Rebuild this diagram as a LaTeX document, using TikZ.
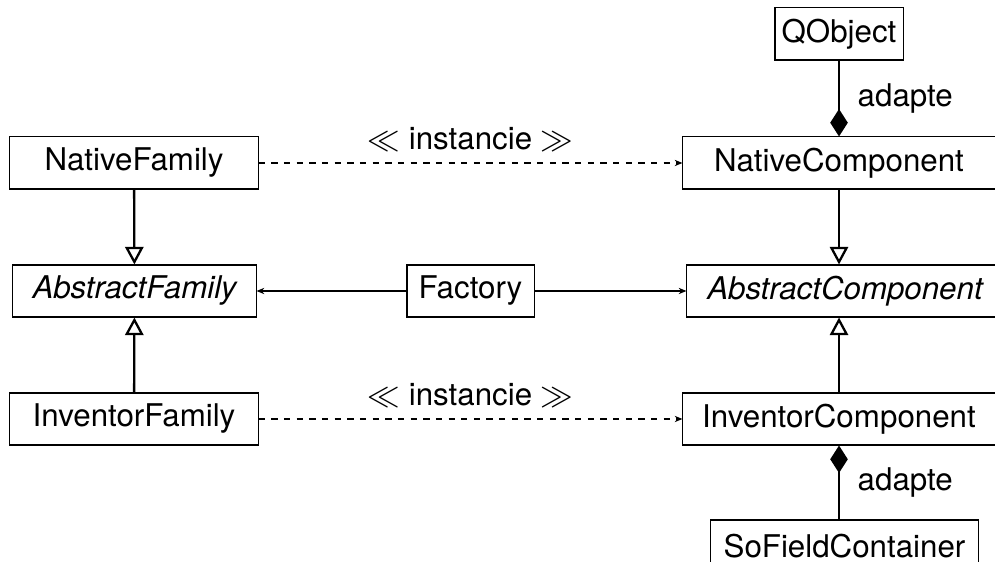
\documentclass[tikz,border=0pt]{standalone}
\usepackage{fontspec}
\setmainfont{TeX Gyre Heros}
\usetikzlibrary{arrows.meta,positioning}

\begin{document}
\begin{tikzpicture}[
    x=0.01cm, y=-0.01cm,
    every node/.style={font=\fontsize{8.9}{10.5}\selectfont},
    cls/.style={
        rectangle, draw=black, line width=0.3pt,
        minimum height=0.52cm, inner sep=0pt
    },
    abscls/.style={
        cls, font=\fontsize{8.9}{10.5}\selectfont\itshape
    },
    inherit/.style={-{Triangle[open, length=5pt, width=5.2pt]}, line width=0.65pt},
    compose/.style={-{Diamond[length=7.8pt, width=5pt]}, line width=0.65pt},
    uses/.style={-{Stealth[length=2.2pt, width=1.8pt]}, line width=0.3pt},
    instance/.style={uses, dash pattern=on 1.8pt off 1.8pt}
]
\useasboundingbox (0,0) rectangle (995,562);

% Familles
\node[cls, minimum width=2.48cm] (natfam) at (134,163) {NativeFamily};
\node[abscls, minimum width=2.43cm] (absfam) at (134.5,291) {AbstractFamily};
\node[cls, minimum width=2.48cm] (invfam) at (134,419) {InventorFamily};

% Fabrique
\node[cls, minimum width=1.27cm] (factory) at (470.5,291) {Factory};

% Composants
\node[cls, minimum width=1.28cm] (qobject) at (839,34) {QObject};
\node[cls, minimum width=3.12cm] (natcomp) at (839,163) {NativeComponent};
\node[abscls, minimum width=3.16cm] (abscomp) at (845,291) {AbstractComponent};
\node[cls, minimum width=3.12cm] (invcomp) at (839,419) {InventorComponent};
\node[cls, minimum width=2.67cm] (sofield) at (844.5,546) {SoFieldContainer};

% Heritage
\draw[inherit] (natfam) -- (absfam);
\draw[inherit] (invfam) -- (absfam);
\draw[inherit] (natcomp.south) -- (natcomp.south |- abscomp.north);
\draw[inherit] (invcomp.north) -- (invcomp.north |- abscomp.south);

% Fabrique -> abstractions
\draw[uses] (factory) -- (absfam);
\draw[uses] (factory) -- (abscomp);

% Instanciation
\draw[instance] (natfam) -- node[above] {$\ll$ instancie $\gg$} (natcomp);
\draw[instance] (invfam) -- node[above] {$\ll$ instancie $\gg$} (invcomp);

% Adaptation
\draw[compose] (qobject) -- node[right, inner sep=5pt] {adapte} (natcomp);
\draw[compose] (invcomp.south |- sofield.north) -- node[right, inner sep=5pt] {adapte} (invcomp.south);

\end{tikzpicture}
\end{document}
